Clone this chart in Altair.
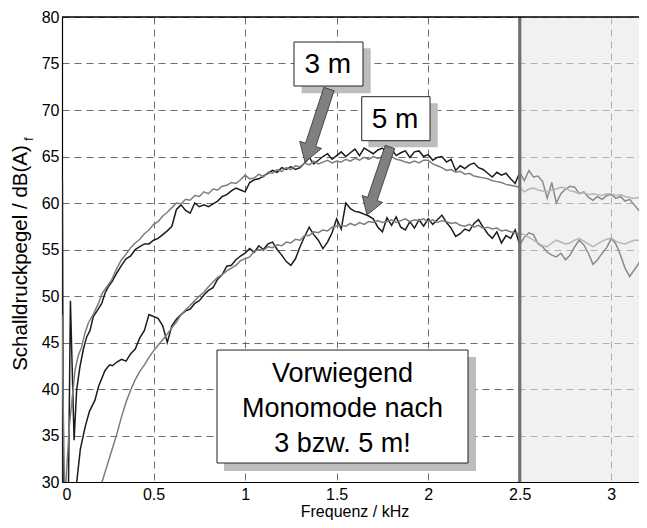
import altair as alt
import pandas as pd

# ---------------- data ----------------
SERIES = ["3 m (dunkel)", "3 m (grau)", "5 m (dunkel)", "5 m (grau)"]
COLORS = ["#1c1c1c", "#7c7c7c", "#1c1c1c", "#7c7c7c"]

X_TICKS = [0, 0.5, 1, 1.5, 2, 2.5, 3]
Y_TICKS = [30, 35, 40, 45, 50, 55, 60, 65, 70, 75, 80]

# common frequency grid (kHz) for x >= 0.3
FREQ_GRID = [round(0.30 + 0.025 * i, 3) for i in range(117)]

# low-frequency parts (kHz, dB)
A_LOW_X = [0.0, 0.002, 0.008, 0.033, 0.046, 0.066, 0.08, 0.098, 0.117, 0.135, 0.153, 0.171, 0.195, 0.217, 0.235, 0.253, 0.275]
A_LOW_Y = [25, 62.5, 25, 25, 49.5, 34.5, 39.9, 42.4, 44.3, 45.6, 46.3, 47.8, 48.5, 49.2, 50.3, 51.0, 51.6]
B_LOW_X = [0.0, 0.005, 0.015, 0.04, 0.071, 0.089, 0.107, 0.125, 0.144, 0.17, 0.199, 0.22, 0.245, 0.27]
B_LOW_Y = [48, 40, 28, 36, 42.0, 43.6, 44.5, 46.0, 47.1, 48.0, 49.2, 50.3, 51.0, 51.7]
C_LOW_X = [0.07, 0.08, 0.1, 0.126, 0.15, 0.18, 0.2, 0.235, 0.26, 0.275]
C_LOW_Y = [27, 29.9, 33.5, 35.9, 37.6, 38.8, 40.3, 42.0, 42.6, 42.5]
D_LOW_X = [0.205, 0.217, 0.25, 0.275]
D_LOW_Y = [28.5, 29.9, 32.0, 33.6]

A_Y = [52.5, 53.3, 54.0, 54.3, 55.0, 55.3, 55.6, 55.6, 56.0, 56.2,
       56.6, 57.0, 57.5, 59.3, 59.8, 59.2, 58.9, 60.0, 59.6, 59.8,
       59.6, 59.9, 60.2, 60.7, 60.9, 61.3, 61.6, 61.4, 61.2, 62.2,
       62.5, 62.6, 62.9, 63.2, 63.5, 63.3, 63.8, 63.6, 63.9, 63.6,
       63.8, 64.3, 64.9, 64.2, 64.6, 65.0, 65.3, 64.7, 65.1, 65.5,
       65.0, 65.4, 65.8, 65.1, 65.9, 65.6, 65.3, 65.7, 65.9, 65.4,
       65.8, 65.1, 65.4, 65.6, 64.9, 65.5, 65.6, 65.0, 65.2, 64.6,
       64.9, 65.0, 64.4, 64.7, 63.5, 64.0, 63.7, 64.1, 64.3, 63.8,
       63.6, 63.2, 62.8, 63.3, 63.0, 63.2, 62.6, 62.1, 63.3, 62.4,
       63.5, 62.8, 62.9, 62.3, 60.5, 62.2, 60.0, 61.0, 61.5, 61.8,
       61.7, 61.0, 61.2, 60.6, 60.3, 60.7, 60.4, 60.8, 60.9, 60.5,
       60.7, 60.2, 60.4, 59.8, 59.2, 60.1, 60.4]
B_Y = [53.0, 53.9, 54.5, 55.2, 55.7, 56.1, 56.7, 57.1, 57.7, 58.0,
       58.6, 59.0, 59.5, 60.0, 59.9, 60.4, 60.3, 60.8, 60.7, 61.2,
       61.0, 61.5, 61.4, 61.8, 61.9, 62.2, 62.1, 62.5, 63.0, 62.6,
       62.7, 63.1, 62.8, 63.3, 63.2, 63.6, 63.4, 63.8, 63.6, 64.0,
       63.9, 64.3, 64.1, 64.5, 64.2, 64.4, 64.6, 64.3, 64.5, 64.4,
       64.7, 64.5, 64.8, 64.6, 64.9, 64.7, 65.0, 64.8, 65.0, 64.9,
       65.0, 64.7, 64.6, 64.4, 64.3, 64.5, 64.3, 64.6, 64.6, 64.2,
       64.0, 63.8, 63.5, 63.6, 63.3, 63.4, 63.1, 63.2, 62.9, 62.8,
       62.7, 62.6, 62.4, 62.3, 62.2, 62.0, 61.9, 61.8, 61.7, 61.2,
       61.5, 61.6, 61.4, 61.3, 61.2, 61.4, 61.5, 61.7, 61.6, 61.3,
       61.2, 61.0, 61.1, 60.9, 61.0, 60.9, 60.8, 61.0, 61.0, 60.8,
       60.9, 60.7, 60.6, 60.5, 60.6, 60.4, 60.4]
C_Y = [42.9, 43.2, 43.0, 43.8, 44.3, 45.5, 46.3, 48.0, 47.8, 47.6,
       46.8, 45.0, 46.8, 47.5, 48.0, 48.4, 48.6, 49.2, 49.5, 50.1,
       50.6, 50.9, 51.8, 52.3, 53.2, 53.3, 53.9, 54.3, 54.6, 55.1,
       54.7, 55.4, 55.0, 55.6, 55.8, 55.0, 54.4, 53.7, 53.3, 54.0,
       55.3, 56.4, 57.4, 56.6, 56.0, 55.1, 55.8, 56.8, 58.3, 57.2,
       60.0, 59.4, 59.1, 59.0, 58.8, 58.6, 58.3, 57.4, 56.9, 58.4,
       57.6, 58.5, 57.4, 57.1, 58.0, 57.3, 58.2, 57.5, 58.3, 57.7,
       58.2, 58.7, 57.9, 57.3, 56.4, 56.7, 57.2, 57.0, 57.8, 58.2,
       57.4, 56.7, 56.2, 56.9, 55.7, 56.5, 56.2, 57.1, 55.5, 56.3,
       56.8, 56.6, 55.6, 55.3, 54.7, 54.4, 54.2, 54.6, 53.9, 54.4,
       55.3, 56.0, 55.5, 54.6, 53.4, 53.9, 54.6, 55.2, 56.2, 55.6,
       54.4, 53.0, 52.1, 52.8, 53.5, 54.6, 55.3]
D_Y = [35.2, 37.0, 38.6, 39.9, 41.0, 41.9, 42.6, 43.4, 44.1, 44.7,
       45.3, 45.9, 46.6, 47.2, 48.0, 48.5, 49.0, 49.5, 50.0, 50.4,
       51.0, 51.5, 52.0, 52.3, 52.7, 53.0, 53.3, 53.8, 54.0, 54.2,
       54.8, 55.0, 54.9, 55.3, 55.2, 55.5, 55.4, 55.8, 55.7, 56.1,
       56.0, 56.5, 56.5, 56.9, 56.8, 57.1, 57.0, 57.4, 57.5, 57.6,
       57.5, 57.8, 57.6, 57.9, 57.7, 58.0, 57.9, 58.1, 57.9, 58.0,
       58.2, 57.9, 58.1, 58.3, 58.0, 58.2, 58.1, 58.3, 58.0, 58.2,
       57.9, 58.1, 58.0, 57.8, 57.9, 57.6, 57.5, 57.7, 57.4, 57.6,
       57.3, 57.4, 57.2, 57.3, 57.0, 57.1, 56.9, 56.8, 56.7, 56.6,
       56.3, 56.0, 55.7, 55.4, 55.3, 55.7, 56.0, 55.8, 55.6, 55.7,
       56.0, 56.2, 55.9, 55.6, 55.3, 55.6, 55.9, 56.1, 56.2, 55.9,
       55.7, 55.6, 55.8, 56.0, 56.0, 56.1, 56.2]

# annotation boxes (kHz / dB coordinates)
BOX_LABELS = ["3 m", "5 m"]
BOX_X0 = [1.267, 1.637]
BOX_X1 = [1.644, 2.010]
BOX_Y0 = [72.58, 66.70]
BOX_Y1 = [77.31, 71.43]
SHADOW_X0 = [1.309, 1.673, 0.885]
SHADOW_X1 = [1.686, 2.052, 2.261]
SHADOW_Y0 = [71.80, 65.99, 31.18]
SHADOW_Y1 = [76.63, 70.72, 43.44]
LABEL_X = [1.452, 1.819]
LABEL_Y = [73.95, 68.03]

NOTE_LINES = ["Vorwiegend", "Monomode nach", "3 bzw. 5 m!"]
NOTE_X = 1.532
NOTE_Y = [40.78, 37.02, 33.23]
NOTE_BOX = (0.8465, 2.2174, 32.04, 44.19)

ARROW_X = [1.3927, 1.7286]
ARROW_Y = [68.33, 62.37]
ARROW_ANGLE = [18.2, 18.7]
ARROW_SIZE = [5898, 5155]

SHADE_FROM = 2.5

# ---------------- build table ----------------
rows = []
for name, xs_, ys_ in [
    (SERIES[0], A_LOW_X + FREQ_GRID, A_LOW_Y + A_Y),
    (SERIES[1], B_LOW_X + FREQ_GRID, B_LOW_Y + B_Y),
    (SERIES[2], C_LOW_X + FREQ_GRID, C_LOW_Y + C_Y),
    (SERIES[3], D_LOW_X + FREQ_GRID, D_LOW_Y + D_Y),
]:
    for x, y in zip(xs_, ys_):
        rows.append({"f": x, "L": y, "s": name})
df = pd.DataFrame(rows)

FONT = "Liberation Sans"
PX_PER_KHZ = 183.1
PLOT_W = 577
X_DOMAIN_MAX = round(PLOT_W / PX_PER_KHZ, 4)
xs = alt.Scale(domain=[0, X_DOMAIN_MAX], nice=False, zero=False)
ys = alt.Scale(domain=[30, 80], nice=False, zero=False)
AX_X = alt.Axis(values=X_TICKS, format="~g", title=None, labelPadding=4, labelFontSize=16, grid=True)
AX_Y = alt.Axis(values=Y_TICKS, title=None, labelPadding=3, labelFontSize=16, grid=True)


def X(field):
    return alt.X(field, scale=xs, axis=AX_X)


def Y(field):
    return alt.Y(field, scale=ys, axis=AX_Y)


lines = alt.Chart(df).mark_line(strokeWidth=1.5, clip=True).encode(
    x=X("f:Q"), y=Y("L:Q"),
    color=alt.Color("s:N", scale=alt.Scale(domain=SERIES, range=COLORS), legend=None),
    detail="s:N",
)

shade_df = pd.DataFrame({"x0": [SHADE_FROM], "x1": [X_DOMAIN_MAX], "y0": [Y_TICKS[0]], "y1": [Y_TICKS[-1]]})
shade = alt.Chart(shade_df).mark_rect(color="#e6e6e6", opacity=0.55).encode(
    x=X("x0:Q"), x2="x1:Q", y=Y("y0:Q"), y2="y1:Q",
)
sep = alt.Chart(shade_df).mark_rule(color="#707070", strokeWidth=3.2).encode(
    x=X("x0:Q"), y=Y("y0:Q"), y2="y1:Q",
)
top_df = pd.DataFrame({"x0": [0], "x1": [X_DOMAIN_MAX], "y": [Y_TICKS[-1]]})
top_border = alt.Chart(top_df).mark_rule(color="black", strokeWidth=1.3).encode(
    x=X("x0:Q"), x2="x1:Q", y=Y("y:Q"),
)

sh_df = pd.DataFrame({"x0": SHADOW_X0, "x1": SHADOW_X1, "y0": SHADOW_Y0, "y1": SHADOW_Y1})
shadows = alt.Chart(sh_df).mark_rect(color="#bdbdbd").encode(
    x=X("x0:Q"), x2="x1:Q", y=Y("y0:Q"), y2="y1:Q",
)

bx_df = pd.DataFrame({"x0": BOX_X0 + [NOTE_BOX[0]], "x1": BOX_X1 + [NOTE_BOX[1]],
                      "y0": BOX_Y0 + [NOTE_BOX[2]], "y1": BOX_Y1 + [NOTE_BOX[3]]})
boxes = alt.Chart(bx_df).mark_rect(fill="white", stroke="#222222", strokeWidth=1).encode(
    x=X("x0:Q"), x2="x1:Q", y=Y("y0:Q"), y2="y1:Q",
)

lbl_df = pd.DataFrame({"x": LABEL_X, "y": LABEL_Y, "t": BOX_LABELS})
labels = alt.Chart(lbl_df).mark_text(font=FONT, fontSize=28, color="black", align="center",
                                     baseline="alphabetic").encode(
    x=X("x:Q"), y=Y("y:Q"), text="t:N")

note_df = pd.DataFrame({"x": [NOTE_X] * 3, "y": NOTE_Y, "t": NOTE_LINES})
note = alt.Chart(note_df).mark_text(font=FONT, fontSize=27, color="black", align="center",
                                    baseline="alphabetic").encode(
    x=X("x:Q"), y=Y("y:Q"), text="t:N")

ARROW_PATH = "M -0.14 -1 L 0.14 -1 L 0.14 0.53 L 0.3 0.53 L 0 1 L -0.3 0.53 L -0.14 0.53 Z"
ar_df = pd.DataFrame({"x": ARROW_X, "y": ARROW_Y, "a": ARROW_ANGLE, "sz": ARROW_SIZE})
arrows = alt.Chart(ar_df).mark_point(shape=ARROW_PATH, filled=True, fill="#808080",
                                     stroke="#3a3a3a", strokeWidth=0.8, opacity=1).encode(
    x=X("x:Q"), y=Y("y:Q"),
    angle=alt.Angle("a:Q", scale=None), size=alt.Size("sz:Q", scale=None, legend=None),
)

one = pd.DataFrame({"k": [0]})
ytitle = alt.Chart(one).mark_text(text="Schalldruckpegel / dB(A)", font=FONT, fontSize=20.5, angle=270,
                                  align="center", baseline="alphabetic", color="black").encode(
    x=alt.value(-35), y=alt.value(241))
ysub = alt.Chart(one).mark_text(text="f", font=FONT, fontSize=12, angle=270,
                                align="center", baseline="alphabetic", color="black").encode(
    x=alt.value(-29), y=alt.value(122))
xtitle = alt.Chart(one).mark_text(text="Frequenz / kHz", font=FONT, fontSize=16,
                                  align="center", baseline="alphabetic", color="black").encode(
    x=alt.value(293), y=alt.value(500))

chart = alt.layer(lines, shade, sep, top_border, shadows, boxes, labels, note, arrows,
                  ytitle, ysub, xtitle).properties(
    width=PLOT_W, height=465,
    padding={"left": 54, "top": 9, "right": 0, "bottom": 38},
    autosize=alt.AutoSizeParams(type="none"),
    background="white",
).configure_view(strokeWidth=0).configure_axis(
    domainColor="black", domainWidth=1.2, gridColor="#5c5c5c", gridDash=[7, 5], gridWidth=0.9,
    labelFont=FONT, labelColor="black", ticks=False,
)

chart.save("out.html", embed_options={"renderer": "svg", "actions": False})
